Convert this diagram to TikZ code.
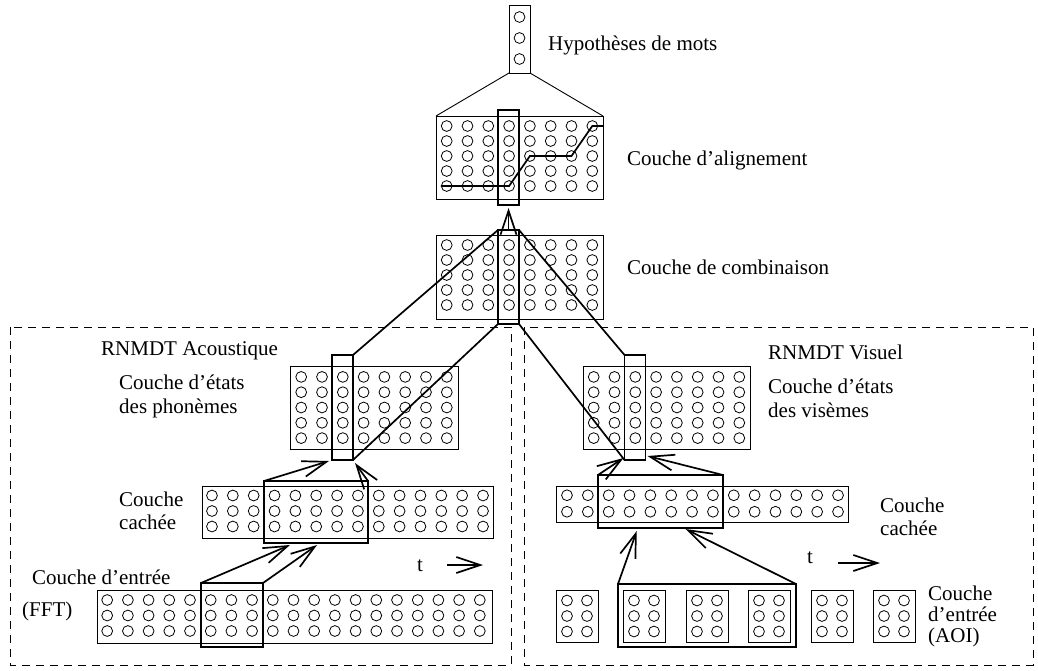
\documentclass[tikz,border=0pt]{standalone}
\usepackage{fontspec}
\setmainfont{Liberation Serif}
\usetikzlibrary{arrows.meta,calc,positioning}

\begin{document}
\begin{tikzpicture}[x=1pt,y=-1pt,
      layer/.style={draw,line width=0.9pt,inner sep=0pt,outer sep=0pt},
      sel/.style={draw,line width=1.9pt,inner sep=0pt,outer sep=0pt},
      neuron/.style={circle,draw,line width=0.8pt,inner sep=0pt,minimum size=10.8pt},
      link/.style={line width=1.7pt},
      feed/.style={-{Straight Barb[length=24pt,width=16pt]},line width=1.7pt},
      frame/.style={draw,dash pattern=on 8pt off 6pt,line width=0.9pt},
      lbl/.style={anchor=west,align=left,inner sep=0pt},
      ]
      \fontsize{21}{24}\selectfont
      \useasboundingbox (0,0) rectangle (1038,670);

      % cadres des deux RNMDT
      \draw[frame] (10,327) rectangle (511,665);
      \draw[frame] (524,327) rectangle (1033,665);

      % couches
      \node[layer,minimum width=21pt,minimum height=68pt] (hyp) at (519.5,39) {};
      \node[layer,minimum width=167pt,minimum height=83pt] (align) at (519.5,157.5) {};
      \node[layer,minimum width=167pt,minimum height=84pt] (comb) at (519.5,277) {};
      \node[layer,minimum width=168pt,minimum height=83pt] (phon) at (374,407.5) {};
      \node[layer,minimum width=167pt,minimum height=83pt] (vis) at (666.5,407.5) {};
      \node[layer,minimum width=291pt,minimum height=52pt] (hidA) at (347.5,512) {};
      \node[layer,minimum width=292pt,minimum height=36pt] (hidV) at (702,504) {};
      \node[layer,minimum width=395pt,minimum height=53pt] (inA) at (294.5,616.5) {};
      \foreach \k/\x in {1/577,2/644,3/707,4/769,5/832,6/894}
        \node[layer,minimum width=42pt,minimum height=52pt] (inV\k) at (\x,616) {};

      % neurones
      \foreach \j in {1,...,3}
        \node[neuron] (hy-\j) at (519.5,{17+21*(\j-1)}) {};
      \foreach \i in {1,...,8}
        \foreach \j in {1,...,5} {
          \node[neuron] (al-\i-\j) at ({519.5+(\i-4.5)*20.8},{156+(\j-3)*15}) {};
          \node[neuron] (cb-\i-\j) at ({519.5+(\i-4.5)*20.8},{275+(\j-3)*15}) {};
          \node[neuron] (ph-\i-\j) at ({374+(\i-4.5)*20.8},{407.5+(\j-3)*15.3}) {};
          \node[neuron] (vs-\i-\j) at ({666.5+(\i-4.5)*20.8},{407.5+(\j-3)*15.3}) {};
        }
      \foreach \i in {1,...,14} {
        \foreach \j in {1,...,3}
          \node[neuron] (hA-\i-\j) at ({347.5+(\i-7.5)*20.85},{511+(\j-2)*15.5}) {};
        \foreach \j in {1,2}
          \node[neuron] (hV-\i-\j) at ({702.5+(\i-7.5)*20.85},{503.5+(\j-1.5)*16.5}) {};
      }
      \foreach \i in {1,...,19}
        \foreach \j in {1,...,3}
          \node[neuron] (iA-\i-\j) at ({293.5+(\i-10)*20.7},{615.5+(\j-2)*15.5}) {};
      \foreach \k/\x in {1/577,2/644,3/707,4/769,5/832,6/894}
        \foreach \i in {1,2}
          \foreach \j in {1,...,3}
            \node[neuron] (iV\k-\i-\j) at ({\x+(\i-1.5)*20},{616+(\j-2)*15.5}) {};

      % colonnes selectionnees
      \node[sel,minimum width=21pt,minimum height=95pt] (alsel) at (508.5,157.5) {};
      \node[sel,minimum width=21pt,minimum height=94pt] (cbsel) at (508.5,277) {};
      \node[sel,minimum width=21pt,minimum height=105pt] (phsel) at (342.5,407.5) {};
      \node[sel,minimum width=21pt,minimum height=105pt] (vssel) at (635,407.5) {};
      \node[sel,minimum width=104pt,minimum height=62pt] (hAsel) at (316,512) {};
      \node[sel,minimum width=125pt,minimum height=53pt] (hVsel) at (660.5,501.5) {};
      \node[sel,minimum width=62pt,minimum height=64pt] (iAsel) at (232,615) {};
      \node[sel,minimum width=178pt,minimum height=63pt] (iVsel) at (707,615.5) {};

      % liaisons
      \draw[line width=0.9pt] (hyp.south west) -- (align.north west)
                              (hyp.south east) -- (align.north east);
      \draw[link] (al-1-5.west) -- (al-4-5.center) -- (al-5-3.center)
                  -- (al-7-3.center) -- (al-8-1.center) -- (al-8-1.center -| align.east);
      \draw[link] (cbsel.north west) -- (phsel.north east);
      \draw[link] (cbsel.south west) -- (phsel.south east);
      \draw[link] (cbsel.north east) -- (vssel.north west);
      \draw[link] (cbsel.south east) -- (vssel.south west);

      \draw[feed] (cbsel.north) -- ($(alsel.south)+(0,3)$);
      \draw[feed] (hAsel.north west) -- ($(phsel.south west)+(-3,1)$);
      \draw[feed] (hAsel.north east) -- ($(phsel.south east)+(2,3)$);
      \draw[feed] (iAsel.north west) -- ($(hAsel.south west)!0.25!(hAsel.south east)+(0,2)$);
      \draw[feed] (iAsel.north east) -- ($(hAsel.south west)!0.51!(hAsel.south east)+(0,2)$);
      \draw[feed] (hVsel.north west) -- ($(vssel.south west)+(-1,-2)$);
      \draw[feed] (hVsel.north east) -- ($(vssel.south east)+(2,-4)$);
      \draw[feed] (iVsel.north west) -- ($(hVsel.south west)!0.31!(hVsel.south east)+(0,3)$);
      \draw[feed] (iVsel.north east) -- ($(hVsel.south west)!0.7!(hVsel.south east)+(0,1)$);

      % temps
      \node[inner sep=0pt] (tA) at (420,566) {t};
      \coordinate (tAs) at (447,565);
      \coordinate (tAe) at (483,565);
      \draw[feed] (tAs) -- (tAe);
      \node[inner sep=0pt] (tV) at (810,558) {t};
      \coordinate (tVs) at (838,563);
      \coordinate (tVe) at (880,563);
      \draw[feed] (tVs) -- (tVe);

      % etiquettes
      \node[lbl] (hypL) at (548,45) {Hypothèses de mots};
      \node[lbl] (alL) at (627,160) {Couche d'alignement};
      \node[lbl] (cbL) at (627,267) {Couche de combinaison};
      \node[lbl] (acL) at (101,351) {RNMDT Acoustique};
      \node[lbl] (phL) at (119,396.5) {Couche d'états\\des phonèmes};
      \node[lbl] (viL) at (768,352) {RNMDT Visuel};
      \node[lbl] (vsL) at (768,398) {Couche d'états\\des visèmes};
      \node[lbl] (hAL) at (119,511) {Couche\\[-1pt]cachée};
      \node[lbl] (hVL) at (880,516.5) {Couche\\[-1pt]cachée};
      \node[lbl] (iAL) at (32,577) {Couche d'entrée};
      \node[lbl] (fftL) at (22,611) {(FFT)};
      \node[lbl] (iVL) at (928,616) {Couche\\[-3pt]d'entrée\\[-3pt](AOI)};
\end{tikzpicture}
\end{document}
